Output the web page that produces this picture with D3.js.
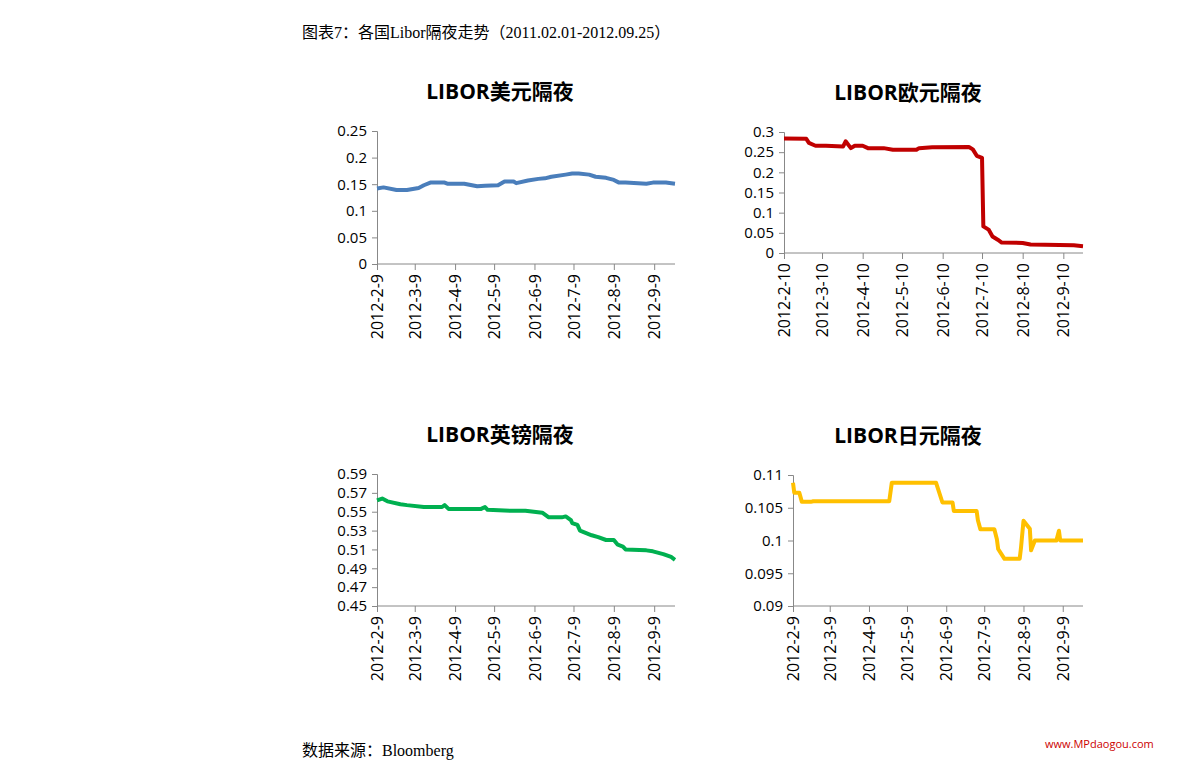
<!DOCTYPE html><html><head><meta charset="utf-8"><script src="https://cdn.jsdelivr.net/npm/d3@7"></script>
<style>body{margin:0;background:#fff}text{font-family:"Open Sans","Liberation Sans",sans-serif}</style></head><body>
<svg id="c" width="1191" height="781"></svg>
<script>
const usdDates=["2012-02-09","2012-02-14","2012-02-24","2012-03-03","2012-03-12","2012-03-16","2012-03-21","2012-04-01","2012-04-03","2012-04-16","2012-04-26","2012-05-02","2012-05-12","2012-05-17","2012-05-24","2012-05-26","2012-06-04","2012-06-12","2012-06-17","2012-06-22","2012-07-03","2012-07-08","2012-07-13","2012-07-21","2012-07-26","2012-08-03","2012-08-09","2012-08-13","2012-08-18","2012-09-03","2012-09-08","2012-09-18","2012-09-25"];
const usdValues=[0.142,0.144,0.139,0.139,0.143,0.148,0.153,0.153,0.151,0.151,0.146,0.147,0.148,0.155,0.155,0.152,0.157,0.160,0.161,0.164,0.168,0.170,0.170,0.168,0.164,0.162,0.158,0.153,0.153,0.151,0.153,0.153,0.151];
const eurDates=["2012-02-10","2012-02-27","2012-02-29","2012-03-05","2012-03-13","2012-03-26","2012-03-28","2012-04-01","2012-04-04","2012-04-10","2012-04-14","2012-04-26","2012-05-03","2012-05-21","2012-05-23","2012-06-02","2012-06-30","2012-07-03","2012-07-06","2012-07-10","2012-07-11","2012-07-15","2012-07-18","2012-07-22","2012-07-25","2012-08-10","2012-08-16","2012-09-18","2012-09-25"];
const eurValues=[0.284,0.283,0.273,0.266,0.266,0.264,0.277,0.260,0.266,0.266,0.260,0.260,0.256,0.256,0.260,0.262,0.263,0.257,0.241,0.236,0.066,0.058,0.041,0.033,0.026,0.025,0.021,0.019,0.017];
const gbpDates=["2012-02-09","2012-02-13","2012-02-17","2012-02-27","2012-03-03","2012-03-16","2012-03-30","2012-04-01","2012-04-04","2012-04-29","2012-05-02","2012-05-04","2012-05-22","2012-06-02","2012-06-15","2012-06-20","2012-06-30","2012-07-03","2012-07-07","2012-07-08","2012-07-12","2012-07-14","2012-07-23","2012-07-28","2012-08-03","2012-08-09","2012-08-12","2012-08-16","2012-08-18","2012-09-03","2012-09-08","2012-09-16","2012-09-22","2012-09-25"];
const gbpValues=[0.562,0.564,0.561,0.558,0.557,0.555,0.555,0.557,0.553,0.553,0.555,0.552,0.551,0.551,0.549,0.544,0.544,0.545,0.541,0.538,0.536,0.530,0.525,0.523,0.520,0.520,0.515,0.513,0.510,0.509,0.508,0.505,0.502,0.499];
const jpyDates=["2012-02-09","2012-02-10","2012-02-14","2012-02-16","2012-02-23","2012-02-25","2012-04-25","2012-04-27","2012-06-01","2012-06-06","2012-06-14","2012-06-15","2012-07-03","2012-07-04","2012-07-06","2012-07-17","2012-07-19","2012-07-20","2012-07-25","2012-08-06","2012-08-07","2012-08-09","2012-08-14","2012-08-15","2012-08-18","2012-09-04","2012-09-06","2012-09-07","2012-09-25"];
const jpyValues=[0.1088,0.1073,0.1073,0.1059,0.1059,0.1060,0.1060,0.1088,0.1088,0.1058,0.1058,0.1045,0.1045,0.1031,0.1017,0.1017,0.1002,0.0987,0.0972,0.0972,0.0988,0.1030,0.1018,0.0985,0.1000,0.1000,0.1015,0.1000,0.1000];
const usdTicks=[0,0.05,0.1,0.15,0.2,0.25], eurTicks=[0,0.05,0.1,0.15,0.2,0.25,0.3];
const gbpTicks=[0.45,0.47,0.49,0.51,0.53,0.55,0.57,0.59], jpyTicks=[0.09,0.095,0.1,0.105,0.11];
const tick9=["2012-02-09","2012-03-09","2012-04-09","2012-05-09","2012-06-09","2012-07-09","2012-08-09","2012-09-09"];
const tick10=["2012-02-10","2012-03-10","2012-04-10","2012-05-10","2012-06-10","2012-07-10","2012-08-10","2012-09-10"];
const titles=["LIBOR美元隔夜","LIBOR欧元隔夜","LIBOR英镑隔夜","LIBOR日元隔夜"];
const svg=d3.select("#c"), P=d3.timeParse("%Y-%m-%d");
svg.append("text").attr("x",302).attr("y",38).style("font-family","'Liberation Serif','Noto Sans CJK SC',serif").style("font-size","16px").text("图表7：各国Libor隔夜走势（2011.02.01-2012.09.25）");
svg.append("text").attr("x",302).attr("y",756).style("font-family","'Liberation Serif','Noto Sans CJK SC',serif").style("font-size","16px").text("数据来源：Bloomberg");
svg.append("text").attr("x",1045).attr("y",748).attr("fill","#c00").style("font-size","11px").text("www.MPdaogou.com");
function panel(o){
 const x=d3.scaleTime().domain([P(o.d0),P("2012-09-25")]).range([o.x0,o.x1]);
 const y=d3.scaleLinear().domain([o.ticks[0],o.ticks[o.ticks.length-1]]).range([o.y0,o.y1]);
 svg.append("text").attr("x",o.tx).attr("y",o.y1-32).attr("text-anchor","middle").style("font-weight","bold").style("font-size","21px").style("font-family","'Open Sans','Noto Sans CJK SC',sans-serif").text(o.title);
 const ya=svg.append("g").attr("transform",`translate(${o.x0},0)`).call(d3.axisLeft(y).tickValues(o.ticks).tickSize(5).tickFormat(d=>d3.format("")(+d.toFixed(3))));
 const xa=svg.append("g").attr("transform",`translate(0,${o.y0})`).call(d3.axisBottom(x).tickValues(o.xt.map(P)).tickSize(6).tickFormat(d3.timeFormat("%Y-%-m-%-d")));
 xa.select(".domain").attr("d",`M${o.x0},0H${o.x1}`);
 [ya,xa].forEach(a=>{a.selectAll("path,line").attr("stroke","#888");a.selectAll("text").style("font-size","15px").attr("fill","#000");});
 ya.selectAll("text").attr("x",-10);
 xa.selectAll("text").attr("transform","rotate(-90)").attr("text-anchor","end").attr("x",-10).attr("y",0).attr("dy","0.35em").style("font-size","16px");
 svg.append("path").datum(o.dates.map((d,i)=>[P(d),o.vals[i]])).attr("fill","none").attr("stroke",o.color).attr("stroke-width",4).attr("stroke-linejoin","round")
  .attr("d",d3.line().x(d=>x(d[0])).y(d=>y(d[1])));
}
panel({title:titles[0],x0:377,x1:675,y0:264,y1:131,tx:500,ticks:usdTicks,d0:"2012-02-09",xt:tick9,dates:usdDates,vals:usdValues,color:"#4a7ebb"});
panel({title:titles[1],x0:784,x1:1083,y0:253,y1:132,tx:908,ticks:eurTicks,d0:"2012-02-10",xt:tick10,dates:eurDates,vals:eurValues,color:"#c00000"});
panel({title:titles[2],x0:377,x1:675,y0:606,y1:474,tx:500,ticks:gbpTicks,d0:"2012-02-09",xt:tick9,dates:gbpDates,vals:gbpValues,color:"#00b050"});
panel({title:titles[3],x0:793,x1:1083,y0:606,y1:475,tx:908,ticks:jpyTicks,d0:"2012-02-09",xt:tick9,dates:jpyDates,vals:jpyValues,color:"#ffc000"});
</script></body></html>
